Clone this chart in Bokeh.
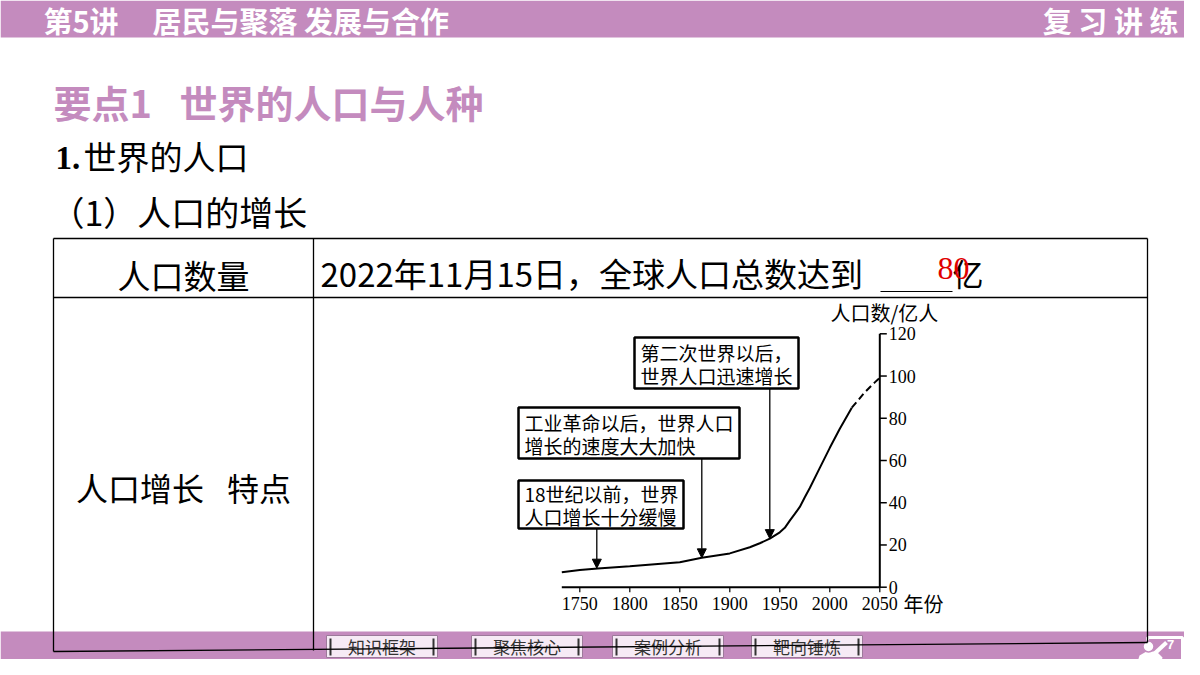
from bokeh.plotting import figure
from bokeh.models import Range1d, Arrow, NormalHead
from bokeh.core.properties import value
from bokeh.embed import file_html
from bokeh.resources import INLINE

# ---------------- data ----------------
years = [1732, 1750, 1768, 1800, 1850, 1872, 1900, 1920, 1930, 1940, 1950, 1955,
         1960, 1965, 1970, 1975, 1980, 1990, 2000, 2010, 2022]
pop = [7.1, 8.1, 8.9, 9.9, 11.8, 13.9, 16.0, 18.9, 20.8, 23.0, 26.0, 28.1,
       31.5, 34.7, 38.0, 42.6, 47.0, 56.5, 66.0, 75.0, 85.0]
proj_years = [2022, 2035, 2045, 2050]
proj_pop = [85.0, 92.3, 97.0, 99.2]

x_ticks = [1750, 1800, 1850, 1900, 1950, 2000, 2050]
y_ticks = [0, 20, 40, 60, 80, 100, 120]

arrow_years = [1767, 1872, 1940]
arrow_pop = [9.0, 13.9, 23.0]
notes = [["18世纪以前，世界", "人口增长十分缓慢"],
         ["工业革命以后，世界人口", "增长的速度大大加快"],
         ["第二次世界以后，", "世界人口迅速增长"]]

buttons = ["知识框架", "聚焦核心", "案例分析", "靶向锤炼"]

# ---------------- layout constants (picture pixels) ----------------
W, H = 1184, 659
PURPLE = "#C48BBE"
CJK = value("Noto Sans CJK SC")
SERIF = value("Liberation Serif")

# chart placement: year->px and value->px anchors
X1750, X2050 = 579.3, 879.3
Y0, Y120 = 586.7, 333.3
px_per_year = (X2050 - X1750) / 300.0
px_per_unit = (Y0 - Y120) / 120.0
yr_start = 1750 + (0 - X1750) / px_per_year
yr_end = 1750 + (W - X1750) / px_per_year
pop_top = Y0 / px_per_unit
pop_bottom = (Y0 - H) / px_per_unit


def py2pop(py):
    return (Y0 - py) / px_per_unit


p = figure(width=W, height=H, output_backend="svg", toolbar_location=None,
           x_range=Range1d(0, W), y_range=Range1d(H, 0),
           x_axis_location=None, y_axis_location=None, min_border=0)
p.outline_line_color = None
p.grid.visible = False
p.background_fill_color = "white"
p.border_fill_color = "white"
p.extra_x_ranges = {"yr": Range1d(yr_start, yr_end)}
p.extra_y_ranges = {"pop": Range1d(pop_bottom, pop_top)}

# ---------------- header ----------------
p.quad(left=0, right=W, top=0, bottom=37, fill_color=PURPLE, line_color=None)
p.text(x=[43], y=[19], text=["第5讲"], text_font=CJK, text_font_size="29px",
       text_font_style="bold", text_color="white", text_baseline="middle")
p.text(x=[152], y=[19], text=["居民与聚落 发展与合作"], text_font=CJK, text_font_size="29px",
       text_font_style="bold", text_color="white", text_baseline="middle")
p.text(x=[1178], y=[19], text=["复 习 讲 练"], text_font=CJK, text_font_size="29px",
       text_font_style="bold", text_color="white", text_baseline="middle", text_align="right")

# ---------------- titles ----------------
p.text(x=[53], y=[101], text=["要点1\u2002\u00a0世界的人口与人种"], text_font=CJK,
       text_font_size="38px", text_font_style="bold", text_color=PURPLE, text_baseline="middle")
p.text(x=[55], y=[157], text=["1."], text_font=SERIF, text_font_size="33px",
       text_font_style="bold", text_color="black", text_baseline="middle")
p.text(x=[83], y=[155], text=["世界的人口"], text_font=CJK, text_font_size="33px",
       text_color="black", text_baseline="middle")
p.text(x=[50], y=[211], text=["（1）人口的增长"], text_font=CJK, text_font_size="34px",
       text_color="black", text_baseline="middle")

# ---------------- table text ----------------
p.text(x=[183], y=[274], text=["人口数量"], text_font=CJK, text_font_size="33px",
       text_color="black", text_baseline="middle", text_align="center")
p.text(x=[183], y=[486], text=["人口增长\u2002\u00a0特点"], text_font=CJK, text_font_size="32px",
       text_color="black", text_baseline="middle", text_align="center")
p.text(x=[320], y=[272], text=["2022年11月15日，全球人口总数达到"], text_font=CJK,
       text_font_size="33px", text_color="black", text_baseline="middle")
p.segment(x0=[880], y0=[291], x1=[952], y1=[291], line_color="black", line_width=1.2)
p.text(x=[952], y=[272], text=["亿"], text_font=CJK, text_font_size="31px",
       text_color="black", text_baseline="middle")
p.text(x=[937], y=[268], text=["80"], text_font=SERIF, text_font_size="32px",
       text_color="#E00000", text_baseline="middle")

# ---------------- chart ----------------
p.line(years, pop, x_range_name="yr", y_range_name="pop", line_color="black", line_width=2)
p.line(proj_years, proj_pop, x_range_name="yr", y_range_name="pop", line_color="black",
       line_width=2, line_dash="7 4")

# y axis (at 2050), ticks pointing right
p.segment(x0=[2050], y0=[0], x1=[2050], y1=[120], x_range_name="yr", y_range_name="pop",
          line_color="black", line_width=2)
tick_len_years = 7 / px_per_year
p.segment(x0=[2050] * len(y_ticks), y0=y_ticks, x1=[2050 + tick_len_years] * len(y_ticks),
          y1=y_ticks, x_range_name="yr", y_range_name="pop", line_color="black", line_width=1.5)
p.text(x=[2050 + 9 / px_per_year] * len(y_ticks), y=y_ticks, text=[str(v) for v in y_ticks],
       x_range_name="yr", y_range_name="pop", text_font=SERIF, text_font_size="18px",
       text_color="black", text_baseline="middle")
# x axis
p.segment(x0=[1732], y0=[0], x1=[2050], y1=[0], x_range_name="yr", y_range_name="pop",
          line_color="black", line_width=2)
tick_len_pop = 5 / px_per_unit
p.segment(x0=x_ticks, y0=[0] * len(x_ticks), x1=x_ticks, y1=[-tick_len_pop] * len(x_ticks),
          x_range_name="yr", y_range_name="pop", line_color="black", line_width=1.2)
p.text(x=x_ticks, y=[-16 / px_per_unit] * len(x_ticks), text=[str(v) for v in x_ticks],
       x_range_name="yr", y_range_name="pop", text_font=SERIF, text_font_size="18px",
       text_color="black", text_baseline="middle", text_align="center")
p.text(x=[903], y=[603], text=["年份"], text_font=CJK, text_font_size="20px",
       text_color="black", text_baseline="middle")
p.text(x=[830], y=[312], text=["人口数/亿人"], text_font=CJK, text_font_size="20px",
       text_color="black", text_baseline="middle")

# annotation boxes
boxes = [(518, 683, 480, 528), (518, 739, 407, 458), (634, 798, 337, 388)]
for (l, r, t, b), lines in zip(boxes, notes):
    p.quad(left=l, right=r, top=t, bottom=b, fill_color="white", line_color="black", line_width=2.5)
    yc = (t + b) / 2
    p.text(x=[l + 6, l + 6], y=[yc - 11, yc + 12], text=lines, text_font=CJK,
           text_font_size="19px", text_color="black", text_baseline="middle")

for ax, ap, (l, r, t, b) in zip(arrow_years, arrow_pop, boxes):
    p.add_layout(Arrow(end=NormalHead(size=9, fill_color="black", line_color="black"),
                       x_start=ax, y_start=py2pop(b), x_end=ax, y_end=ap,
                       x_range_name="yr", y_range_name="pop",
                       line_color="black", line_width=1.3))

# ---------------- footer ----------------
p.quad(left=0, right=W, top=631, bottom=H, fill_color=PURPLE, line_color=None)
btn_left = [326, 471, 612, 751]
for bl, label in zip(btn_left, buttons):
    br = bl + 111
    p.quad(left=bl, right=br, top=635, bottom=657, fill_color="#F6EAF5",
           line_color="#9C7A9A", line_width=1)
    p.segment(x0=[bl + 4, br - 4], y0=[638, 638], x1=[bl + 4, br - 4], y1=[655, 655],
              line_color="#333333", line_width=2)
    p.text(x=[(bl + br) / 2], y=[646], text=[label], text_font=CJK, text_font_size="17px",
           text_color="#333333", text_baseline="middle", text_align="center")

# page icon
p.quad(left=1147, right=1182, top=637, bottom=660, fill_color=None, line_color="white", line_width=3)
p.patch(x=[1136, 1139, 1146, 1156, 1162, 1160], y=[665, 655, 651, 651, 657, 665],
        fill_color="white", line_color=None)
p.segment(x0=[1152], y0=[655], x1=[1166], y1=[642], line_color="white", line_width=4)
p.scatter(x=[1148], y=[646], size=11, fill_color="white", line_color=PURPLE, line_width=1.5)
p.text(x=[1170], y=[644], text=["7"], text_font=value("Liberation Sans"), text_font_size="13px",
       text_font_style="bold", text_color="white", text_baseline="middle", text_align="center")

# ---------------- table lines ----------------
p.segment(x0=[53, 53, 53, 313, 1147, 53], y0=[238, 297, 238, 238, 238, 651],
          x1=[1147, 1147, 53, 313, 1147, 1147], y1=[238, 297, 651, 650, 642, 642],
          line_color="black", line_width=1.3)

open("out.html", "w").write(file_html(p, INLINE))
